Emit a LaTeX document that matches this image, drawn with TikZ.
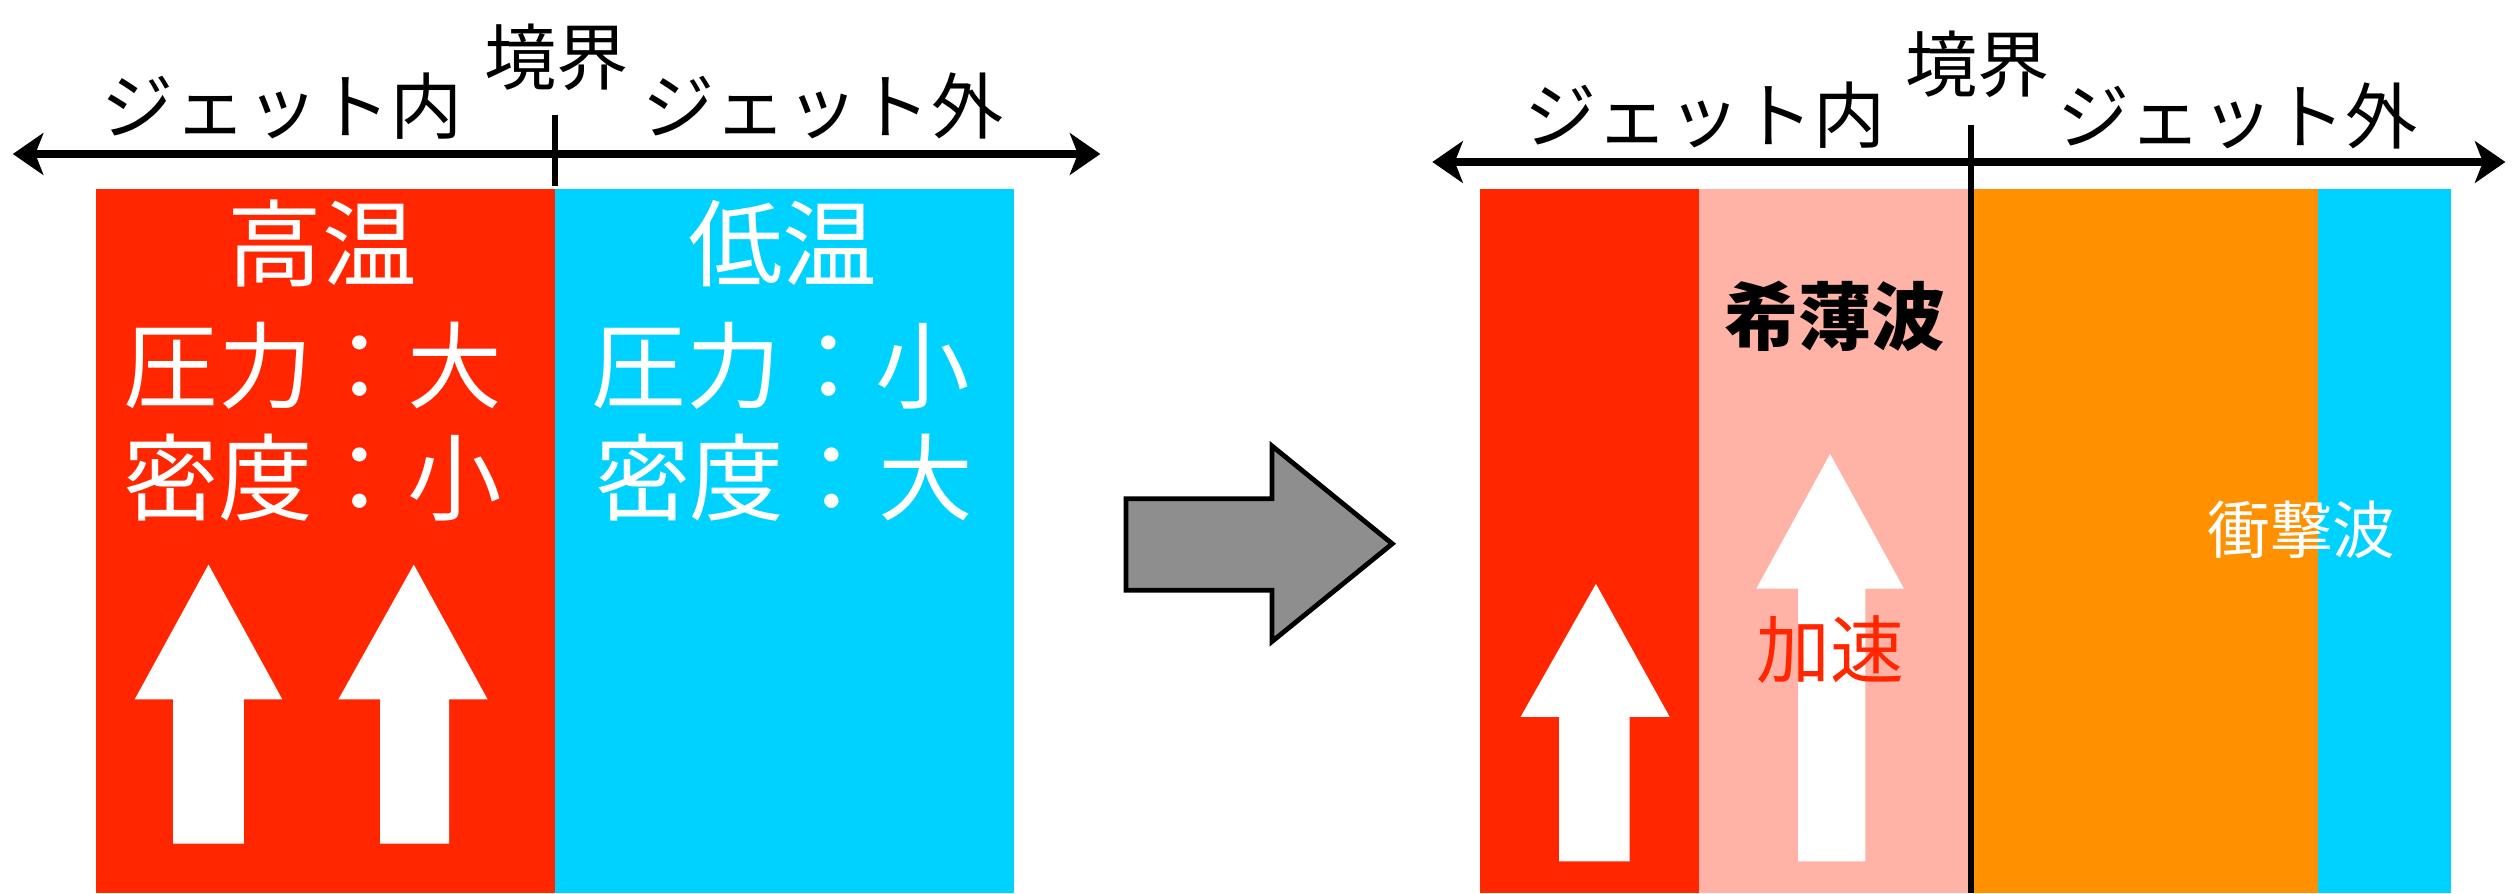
\documentclass[tikz,border=0pt]{standalone}
\usepackage{fontspec}
\newfontfamily\jp{Noto Sans CJK JP}
\usetikzlibrary{arrows.meta}
\definecolor{jred}{RGB}{255,38,0}
\definecolor{jcyan}{RGB}{0,210,255}
\definecolor{jpink}{RGB}{255,178,166}
\definecolor{jorange}{RGB}{255,145,0}
\definecolor{jgray}{RGB}{142,142,142}
\tikzset{
  axisline/.style={line width=4.5pt,{Stealth[length=19pt,width=26pt,inset=5pt]}-{Stealth[length=19pt,width=26pt,inset=5pt]}},
  tickline/.style={line width=4pt},
  sidelab/.style={font=\jp\fontsize{45}{45}\selectfont,inner sep=0pt},
  bigwhite/.style={font=\jp\fontsize{59}{59}\selectfont,text=white,inner sep=0pt},
  midlab/.style={font=\jp\bfseries\fontsize{46}{46}\selectfont,inner sep=0pt},
  acclab/.style={font=\jp\fontsize{46}{46}\selectfont,text=jred,inner sep=0pt},
  shocklab/.style={font=\jp\fontsize{39}{39}\selectfont,text=white,inner sep=0pt},
  whitearrow/.style={fill=white},
}
\begin{document}
\begin{tikzpicture}[x=1pt,y=-1pt]
\useasboundingbox (0,0) rectangle (1568,557);
% ---------- left panel ----------
\fill[jred] (60,118) rectangle (346,557);
\fill[jcyan] (346,118) rectangle (632,557);
\coordinate (la) at (8,96);
\coordinate (lb) at (686,96);
\coordinate (lt1) at (346,72);
\coordinate (lt2) at (346,116);
\draw[axisline] (la) -- (lb);
\draw[tickline] (lt1) -- (lt2);
\node[sidelab] (lkyo) at (347,36) {境界};
\node[sidelab] (lin) at (176,66) {ジェット内};
\node[sidelab] (lout) at (513,66) {ジェット外};
\node[bigwhite] (hot) at (201,152) {高温};
\node[bigwhite] (hp) at (195,228) {圧力：大};
\node[bigwhite] (hd) at (195,298) {密度：小};
\node[bigwhite] (cold) at (488,152) {低温};
\node[bigwhite] (cp) at (487,228) {圧力：小};
\node[bigwhite] (cd) at (489,298) {密度：大};
\fill[whitearrow] (130,352) -- (176,436) -- (152,436) -- (152,526) -- (108,526) -- (108,436) -- (84,436) -- cycle;
\fill[whitearrow] (258,352) -- (304,436) -- (280,436) -- (280,526) -- (237,526) -- (237,436) -- (211,436) -- cycle;
% ---------- middle arrow ----------
\filldraw[fill=jgray,draw=black,line width=3pt,line join=miter]
  (702,311) -- (793,311) -- (793,278) -- (868,339) -- (793,400) -- (793,368) -- (702,368) -- cycle;
% ---------- right panel ----------
\fill[jred] (923,118) rectangle (1059,557);
\fill[jpink] (1059,118) rectangle (1229,557);
\fill[jorange] (1229,118) rectangle (1445,557);
\fill[jcyan] (1445,118) rectangle (1528,557);
\coordinate (ra) at (893,101);
\coordinate (rb) at (1562,101);
\coordinate (rt1) at (1229,78);
\coordinate (rt2) at (1229,557);
\draw[axisline] (ra) -- (rb);
\draw[tickline] (rt1) -- (rt2);
\node[sidelab] (rkyo) at (1233,40) {境界};
\node[sidelab] (rin) at (1063,72) {ジェット内};
\node[sidelab] (rout) at (1395,72) {ジェット外};
\fill[whitearrow] (995,364) -- (1041,447) -- (1016,447) -- (1016,537) -- (972,537) -- (972,447) -- (948,447) -- cycle;
\fill[whitearrow] (1141,283) -- (1187,367) -- (1163,367) -- (1163,537) -- (1121,537) -- (1121,367) -- (1095,367) -- cycle;
\node[midlab] (rare) at (1144,197) {希薄波};
\node[acclab] (acc) at (1141,405) {加速};
\node[shocklab] (shock) at (1435,330) {衝撃波};
\end{tikzpicture}
\end{document}
